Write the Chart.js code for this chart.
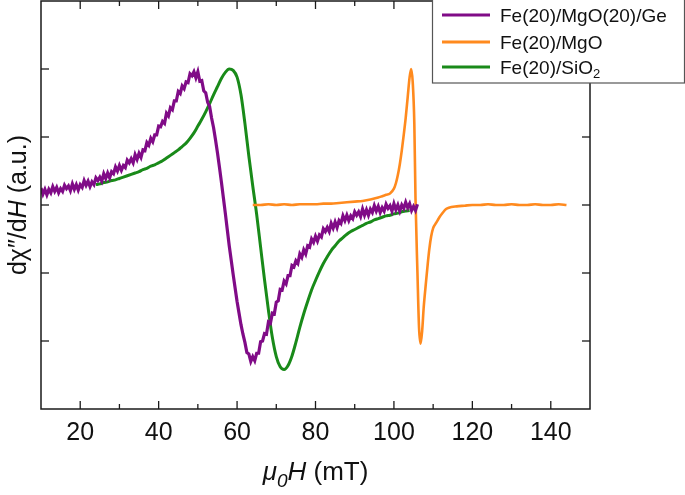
<!DOCTYPE html>
<html>
<head>
<meta charset="utf-8">
<script src="https://cdn.jsdelivr.net/npm/chart.js@4.4.1/dist/chart.umd.min.js"></script>
<style>
  html, body { margin: 0; padding: 0; background: #fff; }
  canvas { display: block; }
</style>
</head>
<body>
<canvas id="fmr-chart" width="685" height="495"></canvas>
<script>
// field values (mT) and signal (a.u.)
const geX = [10, 10.5, 11, 11.5, 12, 12.5, 13, 13.5, 14, 14.5, 15, 15.5, 16, 16.5, 17, 17.5, 18, 18.5, 19, 19.5,
  20, 20.5, 21, 21.5, 22, 22.5, 23, 23.5, 24, 24.5, 25, 25.5, 26, 26.5, 27, 27.5, 28, 28.5, 29, 29.5,
  30, 30.5, 31, 31.5, 32, 32.5, 33, 33.5, 34, 34.5, 35, 35.5, 36, 36.5, 37, 37.5, 38, 38.5, 39, 39.5,
  40, 40.5, 41, 41.5, 42, 42.5, 43, 43.5, 44, 44.5, 45, 45.5, 46, 46.5, 47, 47.5, 48, 48.5, 49, 49.5,
  50, 50.5, 51, 51.5, 52, 52.5, 53, 53.5, 54, 54.5, 55, 55.5, 56, 56.5, 57, 57.5, 58, 58.5, 59, 59.5,
  60, 60.5, 61, 61.5, 62, 62.5, 63, 63.5, 64, 64.5, 65, 65.5, 66, 66.5, 67, 67.5, 68, 68.5, 69, 69.5,
  70, 70.5, 71, 71.5, 72, 72.5, 73, 73.5, 74, 74.5, 75, 75.5, 76, 76.5, 77, 77.5, 78, 78.5, 79, 79.5,
  80, 80.5, 81, 81.5, 82, 82.5, 83, 83.5, 84, 84.5, 85, 85.5, 86, 86.5, 87, 87.5, 88, 88.5, 89, 89.5,
  90, 90.5, 91, 91.5, 92, 92.5, 93, 93.5, 94, 94.5, 95, 95.5, 96, 96.5, 97, 97.5, 98, 98.5, 99, 99.5,
  100, 100.5, 101, 101.5, 102, 102.5, 103, 103.5, 104, 104.5, 105, 105.5, 106];
const geY = [0.25, 0.16, 0.23, 0.15, 0.23, 0.18, 0.27, 0.20, 0.26, 0.18, 0.24, 0.20, 0.29, 0.24, 0.28, 0.21, 0.31, 0.23, 0.30, 0.22,
  0.30, 0.26, 0.36, 0.29, 0.35, 0.27, 0.34, 0.30, 0.40, 0.36, 0.41, 0.35, 0.46, 0.39, 0.47, 0.40, 0.49, 0.46, 0.56, 0.50,
  0.58, 0.51, 0.58, 0.55, 0.66, 0.62, 0.68, 0.62, 0.74, 0.67, 0.76, 0.70, 0.81, 0.80, 0.92, 0.88, 0.98, 0.93, 1.03, 1.03,
  1.16, 1.15, 1.23, 1.20, 1.35, 1.31, 1.43, 1.40, 1.53, 1.53, 1.67, 1.64, 1.75, 1.71, 1.81, 1.80, 1.93, 1.90, 1.96, 1.87,
  1.96, 1.82, 1.83, 1.68, 1.65, 1.51, 1.45, 1.28, 1.14, 0.96, 0.77, 0.56, 0.34, 0.11, -0.12, -0.36, -0.60, -0.81, -1.02, -1.22,
  -1.42, -1.59, -1.76, -1.90, -2.02, -2.17, -2.19, -2.30, -2.23, -2.29, -2.18, -2.18, -2.01, -2.00, -1.89, -1.90, -1.72, -1.74, -1.59, -1.60,
  -1.43, -1.41, -1.24, -1.25, -1.12, -1.16, -1.04, -1.04, -0.89, -0.91, -0.82, -0.86, -0.72, -0.77, -0.66, -0.72, -0.60, -0.62, -0.50, -0.55,
  -0.46, -0.53, -0.44, -0.47, -0.35, -0.39, -0.33, -0.39, -0.27, -0.34, -0.25, -0.33, -0.23, -0.27, -0.16, -0.23, -0.15, -0.23, -0.16, -0.20,
  -0.10, -0.15, -0.10, -0.17, -0.06, -0.15, -0.07, -0.15, -0.06, -0.11, -0.01, -0.09, -0.02, -0.11, -0.04, -0.09, 0.01, -0.05, -0.01, -0.09,
  0.02, -0.07, 0.00, -0.09, 0.00, -0.05, 0.04, -0.04, 0.02, -0.08, -0.02, -0.08, 0.01];

const mgoX = [64, 66, 68, 70, 72, 74, 76, 78, 80, 82, 84, 86, 88, 90, 92, 94, 96, 97, 98, 99,
  100, 100.5, 101, 101.5, 102, 102.5, 103, 103.5, 104, 104.4, 104.8, 105.2, 105.5, 106, 106.4, 106.8, 107.2, 107.6, 108.2, 108.6,
  109, 109.5, 110, 110.8, 111.6, 112.5, 113.3, 114, 116, 118, 120, 122, 124, 126, 128, 130, 132, 134, 136, 138, 140, 142, 144];
const mgoY = [0.00, 0.00, 0.01, 0.00, 0.01, 0.00, 0.01, 0.01, 0.01, 0.02, 0.02, 0.03, 0.04, 0.05, 0.06, 0.08, 0.11, 0.13, 0.15, 0.17,
  0.24, 0.32, 0.44, 0.60, 0.80, 1.03, 1.28, 1.58, 1.88, 2.00, 1.80, 1.20, 0.10, -1.00, -1.80, -2.04, -1.85, -1.50, -1.12, -0.88,
  -0.66, -0.46, -0.34, -0.26, -0.18, -0.11, -0.06, -0.04, -0.02, -0.01, 0.00, 0.00, 0.01, 0.00, 0.00, 0.01, 0.00, 0.00, 0.01, 0.00, 0.00, 0.01, 0.00];

const sioX = [24, 25, 26, 27, 28, 29, 30, 31, 32, 33, 34, 35, 36, 37, 38, 39, 40, 41, 42, 43,
  44, 45, 46, 47, 48, 49, 50, 51, 52, 53, 54, 55, 56, 57, 58, 59, 60, 61, 62, 63,
  64, 65, 66, 67, 68, 69, 70, 71, 72, 73, 74, 75, 76, 77, 78, 79, 80, 81, 82, 83,
  84, 85, 86, 87, 88, 89, 90, 91, 92, 93, 94, 95, 96, 97, 98, 99, 100, 101, 102, 103, 104];
const sioY = [0.30, 0.31, 0.33, 0.34, 0.36, 0.37, 0.39, 0.41, 0.43, 0.45, 0.47, 0.49, 0.52, 0.54, 0.57, 0.59, 0.62, 0.65, 0.69, 0.73,
  0.77, 0.81, 0.86, 0.91, 0.98, 1.06, 1.16, 1.26, 1.37, 1.49, 1.62, 1.74, 1.86, 1.95, 2.00, 1.98, 1.88, 1.62, 1.20, 0.72,
  0.28, -0.14, -0.62, -1.10, -1.55, -1.95, -2.23, -2.38, -2.42, -2.36, -2.22, -2.02, -1.80, -1.60, -1.42, -1.25, -1.11, -0.98, -0.86, -0.76,
  -0.67, -0.60, -0.53, -0.48, -0.43, -0.39, -0.36, -0.33, -0.30, -0.27, -0.25, -0.22, -0.20, -0.18, -0.16, -0.15, -0.13, -0.12, -0.10, -0.09, -0.08];

const xMajorTicks = [20, 40, 60, 80, 100, 120, 140];
const xMinorTicks = [30, 50, 70, 90, 110, 130];
const yMajorTicks = [-2, -1, 0, 1, 2];

const seriesNames = ['Fe(20)/MgO(20)/Ge', 'Fe(20)/MgO', 'Fe(20)/SiO'];
const seriesColors = ['#800b87', '#ff8a1e', '#198a19'];

const FONT = '"Liberation Sans", Arial, "DejaVu Sans", sans-serif';

function toPoints(xs, ys) {
  return xs.map((v, i) => ({x: v, y: ys[i]}));
}

// draws a row of text pieces, some italic or lowered
function drawRuns(ctx, runs, x, y, size) {
  const fontOf = r => (r.italic ? 'italic ' : '') + Math.round(size * (r.sub ? 0.72 : 1)) + 'px ' + FONT;
  let total = 0;
  runs.forEach(r => { ctx.font = fontOf(r); total += ctx.measureText(r.t).width; });
  let cx = x - total / 2;
  runs.forEach(r => {
    ctx.font = fontOf(r);
    ctx.fillText(r.t, cx, y + (r.sub ? size * 0.25 : 0));
    cx += ctx.measureText(r.t).width;
  });
}

const framePlugin = {
  id: 'frame',
  afterDraw(chart) {
    const {ctx, chartArea: a, scales: {x, y}} = chart;
    ctx.save();
    ctx.strokeStyle = '#1a1a1a';
    ctx.lineWidth = 1.5;
    ctx.strokeRect(a.left, a.top, a.right - a.left, a.bottom - a.top);

    const tick = (x1, y1, x2, y2) => { ctx.beginPath(); ctx.moveTo(x1, y1); ctx.lineTo(x2, y2); ctx.stroke(); };
    ctx.lineWidth = 1.3;
    xMajorTicks.forEach(v => {
      const px = x.getPixelForValue(v);
      tick(px, a.bottom, px, a.bottom - 8);
      tick(px, a.top, px, a.top + 8);
    });
    xMinorTicks.forEach(v => {
      const px = x.getPixelForValue(v);
      tick(px, a.bottom, px, a.bottom - 5);
      tick(px, a.top, px, a.top + 5);
    });
    yMajorTicks.forEach(v => {
      const py = y.getPixelForValue(v);
      tick(a.left, py, a.left + 8, py);
      tick(a.right, py, a.right - 8, py);
    });

    // axis titles
    ctx.fillStyle = '#111';
    ctx.textBaseline = 'alphabetic';
    drawRuns(ctx, [
      {t: '\u03bc', italic: true}, {t: '0', italic: true, sub: true}, {t: 'H', italic: true}, {t: ' (mT)'}
    ], (a.left + a.right) / 2, 480, 26);

    ctx.save();
    ctx.translate(26, (a.top + a.bottom) / 2);
    ctx.rotate(-Math.PI / 2);
    drawRuns(ctx, [
      {t: 'd\u03c7\u2033/d'}, {t: 'H', italic: true}, {t: ' (a.u.)'}
    ], 0, 0, 25);
    ctx.restore();

    // legend box
    ctx.fillStyle = '#fff';
    ctx.fillRect(432, -2, 252, 85);
    ctx.strokeStyle = '#555';
    ctx.lineWidth = 1.2;
    ctx.strokeRect(432.5, -2, 252, 85);
    const rows = [15, 42, 67];
    seriesNames.forEach((name, i) => {
      ctx.strokeStyle = seriesColors[i];
      ctx.lineWidth = 3;
      tick(442, rows[i], 490, rows[i]);
      ctx.fillStyle = '#111';
      ctx.font = '19px ' + FONT;
      ctx.fillText(name, 500, rows[i] + 7);
      if (i === 2) {
        const w = ctx.measureText(name).width;
        ctx.font = '13px ' + FONT;
        ctx.fillText('2', 500 + w, rows[i] + 11);
      }
    });
    ctx.restore();
  }
};

const chartEl = document.getElementById('fmr-chart');
const fmrChart = new Chart(chartEl, {
  type: 'scatter',
  data: {
    datasets: [
      {label: seriesNames[0], data: toPoints(geX, geY), borderColor: seriesColors[0], borderWidth: 3.2, tension: 0},
      {label: seriesNames[1], data: toPoints(mgoX, mgoY), borderColor: seriesColors[1], borderWidth: 2.6, cubicInterpolationMode: 'monotone'},
      {label: seriesNames[2], data: toPoints(sioX, sioY), borderColor: seriesColors[2], borderWidth: 3, cubicInterpolationMode: 'monotone'}
    ].map(ds => Object.assign(ds, {showLine: true, pointRadius: 0, fill: false}))
  },
  options: {
    responsive: false,
    animation: false,
    layout: {padding: {top: 1, right: 95, left: 0, bottom: 0}},
    plugins: {
      legend: {display: false},
      tooltip: {enabled: false}
    },
    scales: {
      x: {
        type: 'linear',
        min: 10,
        max: 150,
        afterBuildTicks: axis => { axis.ticks = xMajorTicks.map(v => ({value: v})); },
        afterFit: scale => { scale.height = 86; },
        grid: {display: false, drawTicks: false},
        border: {display: false},
        ticks: {
          font: {family: FONT, size: 25},
          color: '#111',
          padding: 9,
          maxRotation: 0,
          autoSkip: false
        }
      },
      y: {
        min: -3,
        max: 3,
        afterFit: scale => { scale.width = 41; },
        grid: {display: false, drawTicks: false},
        border: {display: false},
        ticks: {display: false}
      }
    }
  },
  plugins: [framePlugin]
});
</script>
</body>
</html>
